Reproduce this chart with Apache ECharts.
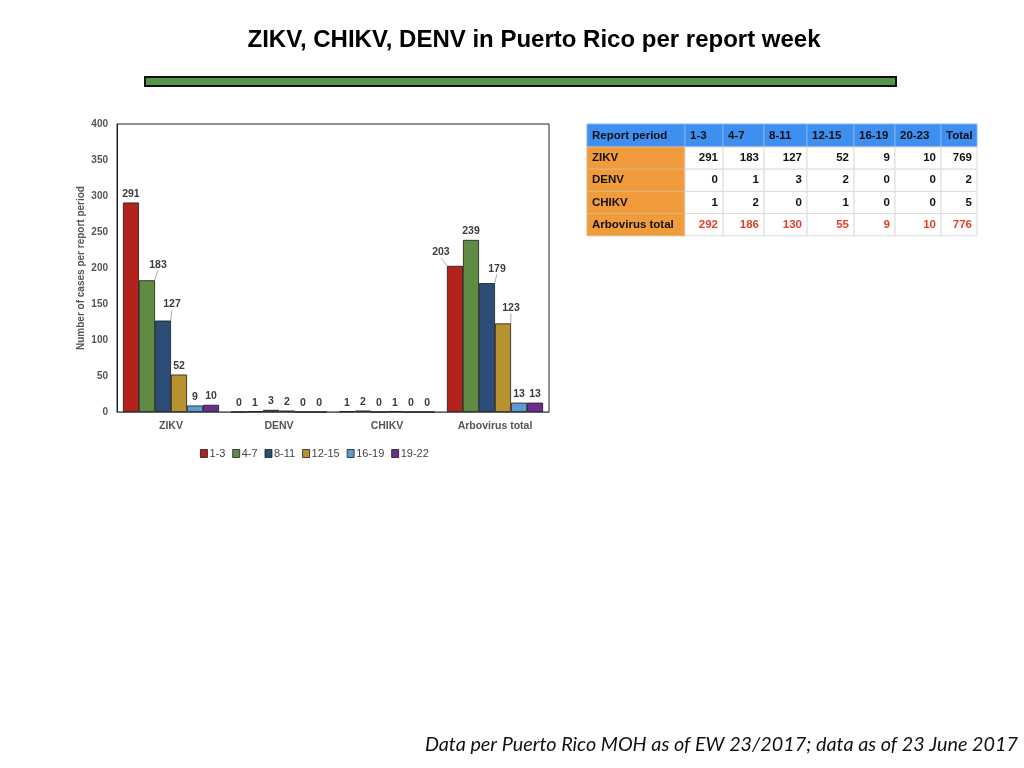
<!DOCTYPE html>
<html style="height: 100%">
<head>
<meta charset="utf-8">
<script src="https://cdn.jsdelivr.net/npm/echarts@6/dist/echarts.min.js"></script>
</head>
<body style="height: 100%; margin: 0; background: #fff">
<div id="container" style="width: 1024px; height: 768px"></div>
<script type="text/javascript">
// chart data
var categories = ['ZIKV', 'DENV', 'CHIKV', 'Arbovirus total'];
var periods = ['1-3', '4-7', '8-11', '12-15', '16-19', '19-22'];
var p1_3 = [291, 0, 1, 203];
var p4_7 = [183, 1, 2, 239];
var p8_11 = [127, 3, 0, 179];
var p12_15 = [52, 2, 1, 123];
var p16_19 = [9, 0, 0, 13];
var p19_22 = [10, 0, 0, 13];
var yTicks = [0, 50, 100, 150, 200, 250, 300, 350, 400];

// table data
var tableHeader = ['Report period', '1-3', '4-7', '8-11', '12-15', '16-19', '20-23', 'Total'];
var tableRows = ['ZIKV', 'DENV', 'CHIKV', 'Arbovirus total'];
var zikvRow = [291, 183, 127, 52, 9, 10];
var denvRow = [0, 1, 3, 2, 0, 0];
var chikvRow = [1, 2, 0, 1, 0, 0];
var arboRow = [292, 186, 130, 55, 9, 10];
var rowTotals = [769, 2, 5, 776];

var colors = ['#b3231c', '#5f8b42', '#2b4d77', '#b8922f', '#5b9bd5', '#6a2d8f'];
var seriesValues = [p1_3, p4_7, p8_11, p12_15, p16_19, p19_22];

// labels that were nudged aside in the original (series-dataIndex -> dx, dy)
var labelShift = {
    '1-0': [11, -7],
    '2-0': [9, -8],
    '0-3': [-14, -5],
    '2-3': [10, -6],
    '3-3': [8, -7]
};

var dom = document.getElementById('container');
var myChart = echarts.init(dom);

var series = seriesValues.map(function (vals, si) {
    return {
        name: periods[si],
        type: 'bar',
        barGap: '0%',
        barCategoryGap: '11%',
        itemStyle: {color: colors[si], borderColor: '#1a1a1a', borderWidth: 0.8},
        label: {
            show: true,
            position: 'top',
            distance: 3,
            color: '#3c3c3c',
            fontWeight: 'bold',
            fontSize: 10.5,
            fontFamily: 'Liberation Sans'
        },
        labelLine: {show: false, lineStyle: {color: '#999', width: 0.8}},
        labelLayout: function (p) {
            var s = labelShift[p.seriesIndex + '-' + p.dataIndex];
            return s ? {dx: s[0], dy: s[1]} : {};
        },
        data: vals.map(function (v, di) {
            var item = {value: v};
            if (labelShift[si + '-' + di]) item.labelLine = {show: true};
            return item;
        })
    };
});

// table drawn as graphic elements
var colX = [587, 685, 723, 764, 807, 854, 895, 941, 977];
var rowY = [124, 147, 169.2, 191.4, 213.6, 235.8];
var tableData = [zikvRow, denvRow, chikvRow, arboRow];
var cells = [];
var cellFont = 'bold 11.5px "Liberation Sans"';
tableHeader.forEach(function (h, ci) {
    cells.push({
        type: 'rect',
        shape: {x: colX[ci], y: rowY[0], width: colX[ci + 1] - colX[ci], height: rowY[1] - rowY[0]},
        style: {fill: '#3f8ff0', stroke: '#7fb4f5', lineWidth: 1}
    });
    cells.push({
        type: 'text',
        style: {text: h, x: colX[ci] + 5, y: (rowY[0] + rowY[1]) / 2, font: cellFont, fill: '#111',
            textAlign: 'left', textVerticalAlign: 'middle'}
    });
});
tableRows.forEach(function (r, ri) {
    var y0 = rowY[ri + 1], y1 = rowY[ri + 2];
    var vals = tableData[ri].concat([rowTotals[ri]]);
    var numColor = ri === 3 ? '#e2402c' : '#111';
    cells.push({
        type: 'rect',
        shape: {x: colX[0], y: y0, width: colX[1] - colX[0], height: y1 - y0},
        style: {fill: '#f09c3c', stroke: '#e0b27a', lineWidth: 1}
    });
    cells.push({
        type: 'text',
        style: {text: r, x: colX[0] + 5, y: (y0 + y1) / 2, font: cellFont, fill: '#111',
            textAlign: 'left', textVerticalAlign: 'middle'}
    });
    vals.forEach(function (v, ci) {
        cells.push({
            type: 'rect',
            shape: {x: colX[ci + 1], y: y0, width: colX[ci + 2] - colX[ci + 1], height: y1 - y0},
            style: {fill: '#fff', stroke: '#dcdcdc', lineWidth: 1}
        });
        cells.push({
            type: 'text',
            style: {text: String(v), x: colX[ci + 2] - 5, y: (y0 + y1) / 2, font: cellFont, fill: numColor,
                textAlign: 'right', textVerticalAlign: 'middle'}
        });
    });
});

var option = {
    animation: false,
    backgroundColor: '#fff',
    title: {
        text: 'ZIKV, CHIKV, DENV in Puerto Rico per report week',
        left: 529,
        textAlign: 'center',
        top: 23,
        textStyle: {fontFamily: 'Liberation Sans', fontWeight: 'bold', fontSize: 24, color: '#000'}
    },
    legend: {
        data: periods,
        top: 443,
        left: 195,
        icon: 'rect',
        itemWidth: 7,
        itemHeight: 8,
        itemGap: 7,
        itemStyle: {borderColor: '#1a1a1a', borderWidth: 0.8},
        textStyle: {fontFamily: 'Liberation Sans', fontSize: 11, color: '#444', padding: [0, 0, 0, -3]}
    },
    grid: {
        left: 117, top: 124, width: 432, height: 288,
        show: true, borderColor: '#222', borderWidth: 1, backgroundColor: 'transparent'
    },
    xAxis: {
        type: 'category',
        data: categories,
        axisLine: {lineStyle: {color: '#666'}},
        axisTick: {show: false},
        axisLabel: {margin: 9, color: '#555', fontWeight: 'bold', fontSize: 10.5, fontFamily: 'Liberation Sans'}
    },
    yAxis: {
        type: 'value',
        min: yTicks[0],
        max: yTicks[yTicks.length - 1],
        interval: yTicks[1] - yTicks[0],
        name: 'Number of cases per report period',
        nameLocation: 'middle',
        nameGap: 31,
        nameTextStyle: {color: '#555', fontWeight: 'bold', fontSize: 10, fontFamily: 'Liberation Sans'},
        axisLine: {show: true, lineStyle: {color: '#222'}},
        axisTick: {show: false},
        splitLine: {show: false},
        axisLabel: {margin: 9, color: '#555', fontWeight: 'bold', fontSize: 10, fontFamily: 'Liberation Sans'}
    },
    graphic: [
        {
            type: 'rect',
            shape: {x: 145, y: 77, width: 751, height: 9},
            style: {fill: '#56964a', stroke: '#111', lineWidth: 2}
        },
        {
            type: 'text',
            style: {
                text: 'Data per Puerto Rico MOH as of EW 23/2017; data as of 23 June 2017',
                x: 1018, y: 745,
                textAlign: 'right', textVerticalAlign: 'middle',
                font: 'italic 19.8px Lato', fill: '#111'
            }
        }
    ].concat(cells),
    series: series
};

myChart.setOption(option);
</script>
</body>
</html>
